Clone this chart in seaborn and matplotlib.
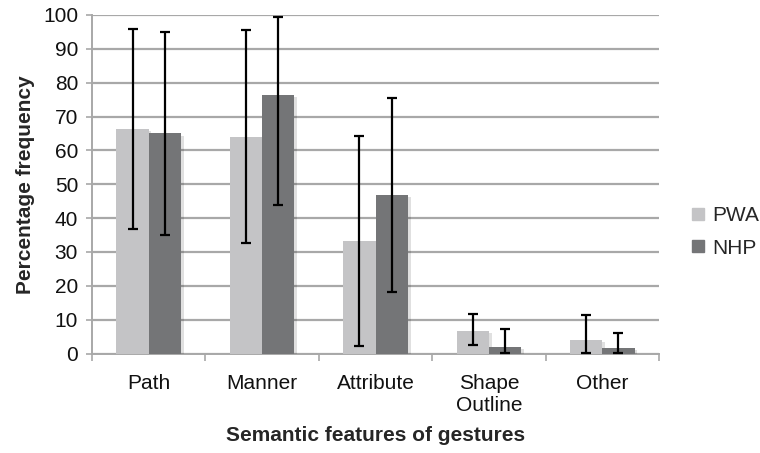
import matplotlib
matplotlib.use("Agg")
import matplotlib.pyplot as plt
import matplotlib.patheffects as pe
from matplotlib.lines import Line2D
import seaborn as sns
import pandas as pd
import numpy as np

categories = ["Path", "Manner", "Attribute", "Shape\nOutline", "Other"]
pwa_values = [66.3, 64.0, 33.2, 6.6, 4.0]
nhp_values = [65.0, 76.4, 46.8, 1.9, 1.6]
pwa_err_low = [36.8, 32.5, 2.3, 2.6, 0.1]
pwa_err_high = [96.0, 95.5, 64.3, 11.7, 11.3]
nhp_err_low = [35.0, 44.0, 18.3, 0.2, 0.1]
nhp_err_high = [95.1, 99.5, 75.6, 7.3, 6.1]
y_ticks = [0, 10, 20, 30, 40, 50, 60, 70, 80, 90, 100]

df = pd.DataFrame({
    "category": categories * 2,
    "group": ["PWA"] * 5 + ["NHP"] * 5,
    "value": pwa_values + nhp_values,
})

sns.set_theme(style="white")
plt.rcParams["font.family"] = ["Liberation Sans", "DejaVu Sans"]

colors = {"PWA": "#c4c4c6", "NHP": "#747577"}
FS = 15

fig = plt.figure(figsize=(7.6, 4.53), dpi=100)
ax = fig.add_axes([92 / 760, 1 - 353.5 / 453, (659 - 92) / 760, (353.5 - 15) / 453])

sns.barplot(data=df, x="category", y="value", hue="group", order=categories,
            hue_order=["PWA", "NHP"], palette=colors, width=0.57, gap=0,
            errorbar=None, ax=ax, legend=False, saturation=1, zorder=3,
            linewidth=0)

shadow = [pe.SimplePatchShadow(offset=(2, -1.5), shadow_rgbFace="#000000", alpha=0.12), pe.Normal()]
for cont in ax.containers:
    for bar in cont:
        bar.set_path_effects(shadow)

for cont, lows, highs in zip(ax.containers, [pwa_err_low, nhp_err_low], [pwa_err_high, nhp_err_high]):
    xs = [b.get_x() + b.get_width() / 2 for b in cont]
    ys = [b.get_height() for b in cont]
    lo = np.array(ys) - np.array(lows)
    hi = np.array(highs) - np.array(ys)
    ax.errorbar(xs, ys, yerr=[lo, hi], fmt="none", ecolor="black", elinewidth=1.6,
                capsize=3.4, capthick=1.6, zorder=5)

ax.set_ylim(0, 100)
ax.set_xlim(-0.5, 4.5)
ax.set_yticks(y_ticks)
ax.yaxis.grid(True, color="#a8a8a8", linewidth=1.6, zorder=0)
ax.set_axisbelow(True)
for s in ["top", "right"]:
    ax.spines[s].set_visible(False)
ax.spines["left"].set_color("#a8a8a8")
ax.spines["left"].set_linewidth(1.4)
ax.spines["bottom"].set_color("#a8a8a8")
ax.spines["bottom"].set_linewidth(1.4)

ax.tick_params(axis="y", which="major", length=4, width=1.2, color="#a8a8a8",
               labelsize=FS, pad=6, left=True, labelcolor="#111111")
ax.set_xticks(range(len(categories)))
ax.set_xticklabels(categories)
ax.set_xticks(np.arange(-0.5, 5.0, 1.0), minor=True)
ax.tick_params(axis="x", which="major", length=0, labelsize=FS, pad=15, labelcolor="#111111")
ax.tick_params(axis="x", which="minor", length=5, width=1.2, color="#a8a8a8", bottom=True)

ax.set_xlabel("Semantic features of gestures", fontsize=FS, fontweight="bold", labelpad=8)
ax.set_ylabel("Percentage frequency", fontsize=FS, fontweight="bold", labelpad=6)

handles = [Line2D([], [], marker="s", linestyle="none", markersize=8,
                  markerfacecolor=colors[g], markeredgecolor=colors[g]) for g in ["PWA", "NHP"]]
fig.legend(handles, ["PWA", "NHP"], loc="center left", bbox_to_anchor=(689.5 / 760, 1 - 232 / 453),
           frameon=False, fontsize=FS, handletextpad=0.28, labelspacing=0.65, handlelength=0.8,
           borderpad=0, borderaxespad=0)

fig.savefig("out.png", dpi=100)
